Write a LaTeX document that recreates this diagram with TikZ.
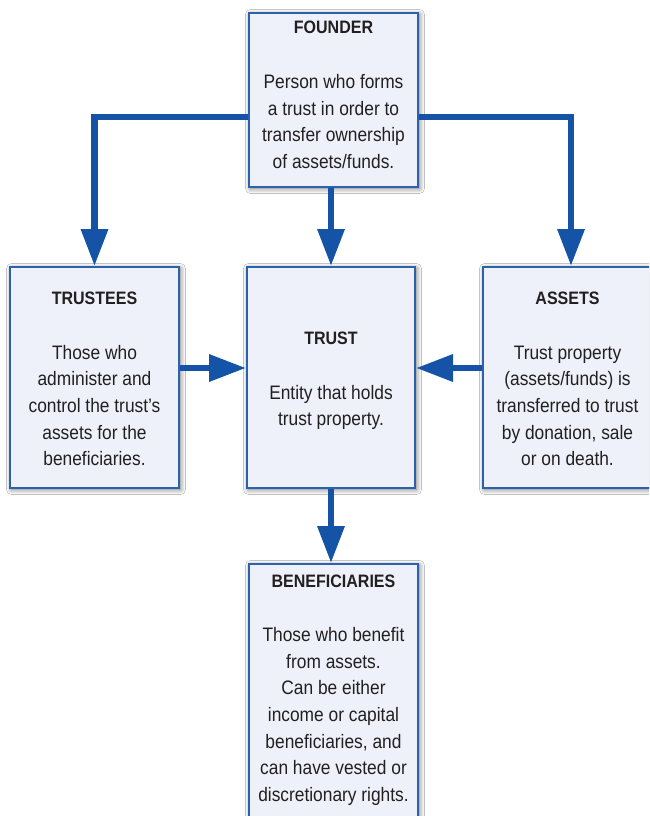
\documentclass[tikz,border=0pt]{standalone}
\usepackage{fontspec}
\setmainfont{Liberation Sans}[FakeStretch=0.89]
\usetikzlibrary{arrows.meta,shadows.blur}
\definecolor{boxfill}{HTML}{EEF1F9}
\definecolor{boxline}{HTML}{2B62AE}
\definecolor{arrowblue}{HTML}{1553A6}
\definecolor{txt}{HTML}{231F20}
\tikzset{
  infobox/.style={draw=boxline, line width=2pt, fill=boxfill, inner sep=0pt,
    blur shadow={shadow xshift=1.5pt, shadow yshift=-1.5pt, shadow blur radius=5pt, shadow opacity=60}},
  boxtext/.style={align=center, text=txt, inner sep=0pt,
    font=\fontsize{19.5}{26.6}\selectfont},
  flow/.style={draw=arrowblue, line width=6.5pt,
    -{Triangle[length=37pt,width=26pt]}},
}
\newcommand{\ttl}[1]{{\fontsize{18}{22}\selectfont\bfseries #1}}
\begin{document}
\begin{tikzpicture}[x=1pt,y=-1pt]
\clip (0,0) rectangle (649,816);
\fill[white] (0,0) rectangle (649,816);
% boxes
\node[infobox, minimum width=169pt, minimum height=174pt] (founder) at (333.5,100) {};
\node[infobox, minimum width=169pt, minimum height=221pt] (trustees) at (94.5,377.5) {};
\node[infobox, minimum width=168pt, minimum height=221pt] (trust) at (331,377.5) {};
\node[infobox, minimum width=169pt, minimum height=221pt] (assets) at (567.5,377.5) {};
\node[infobox, minimum width=169pt, minimum height=262pt] (benef) at (333.5,695) {};
% texts
\node[boxtext] (founder-t) at (333.5,95)
  {\ttl{FOUNDER}\\[28pt]Person who forms\\a trust in order to\\transfer ownership\\of assets/funds.};
\node[boxtext] (trustees-t) at (94.5,379)
  {\ttl{TRUSTEES}\\[28pt]Those who\\administer and\\control the trust’s\\assets for the\\beneficiaries.};
\node[boxtext] (trust-t) at (331,381)
  {\ttl{TRUST}\\[28pt]Entity that holds\\trust property.};
\node[boxtext] (assets-t) at (567.5,379)
  {\ttl{ASSETS}\\[28pt]Trust property\\(assets/funds) is\\transferred to trust\\by donation, sale\\or on death.};
\node[boxtext] (benef-t) at (333.5,690)
  {\ttl{BENEFICIARIES}\\[28pt]Those who benefit\\from assets.\\Can be either\\income or capital\\beneficiaries, and\\can have vested or\\discretionary rights.};
% connectors
\coordinate (fl) at (94,117);
\coordinate (fr) at (571,117);
\coordinate (mid) at (331,368);
\draw[flow] (founder.west |- fl) -| (trustees.north);
\draw[flow] (founder.east |- fr) -| (fr |- assets.north);
\draw[flow] (trust.north |- founder.south) -- (trust.north);
\draw[flow] (trustees.east |- mid) -- (trust.west |- mid);
\draw[flow] (assets.west |- mid) -- (trust.east |- mid);
\draw[flow] (trust.south) -- (trust.south |- benef.north);
\end{tikzpicture}
\end{document}
